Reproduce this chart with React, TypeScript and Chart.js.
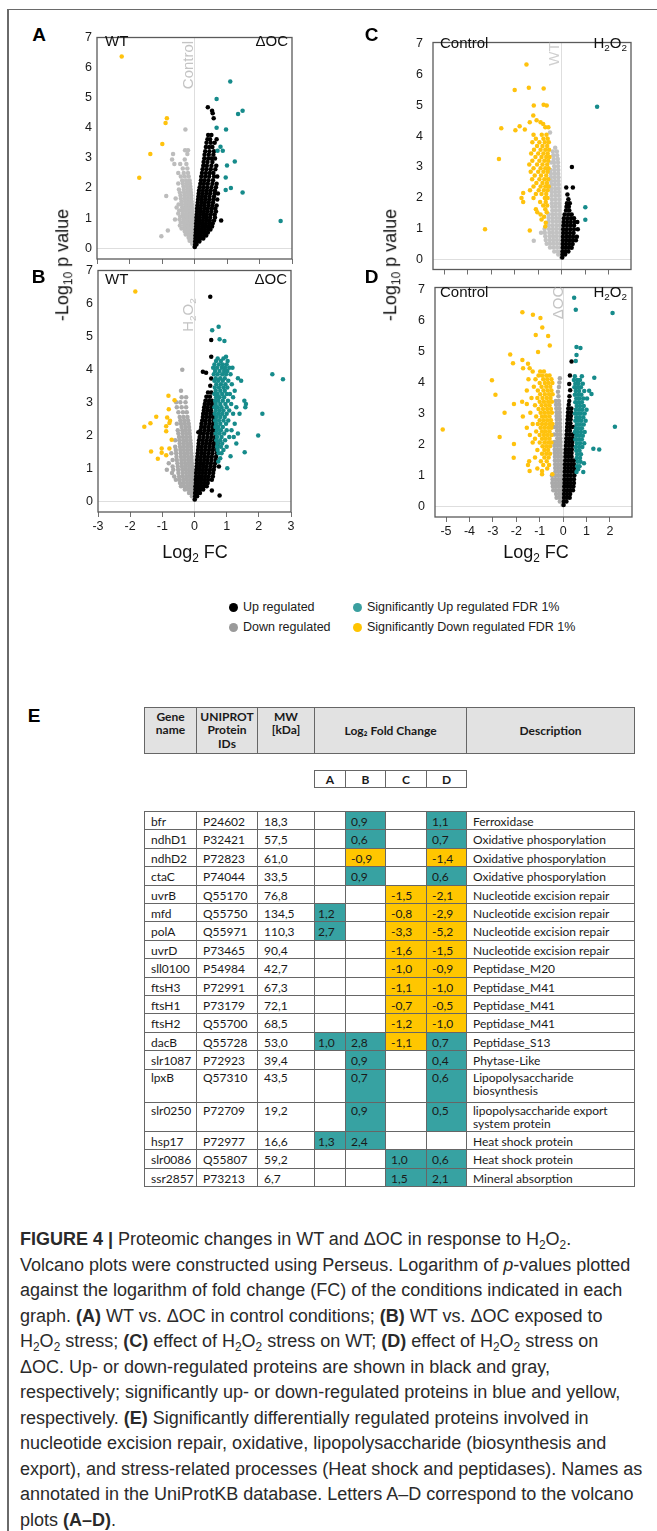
import React, { useEffect, useRef } from 'react';
import { Chart, registerables } from 'chart.js';
Chart.register(...registerables);

// Each row: [y, x1, x2, ...]  (-log10 p value, then log2 FC values read at that height)
type Row = number[];

// ---------- Panel A : WT vs ΔOC, Control ----------
const aSigUp: Row[] = [[5.54, 1.1], [4.96, 0.68], [4.57, 1.48], [4.46, 1.34], [4.0, 0.68], [3.94, 0.97], [3.37, 0.8], [3.24, 0.87, 0.71], [2.88, 1.24], [2.75, 1.0], [2.35, 0.96], [2.0, 1.12], [1.93, 0.96], [1.85, 1.48], [0.9, 2.65]];
const aSigDown: Row[] = [[6.37, -2.24], [4.32, -0.85], [4.16, -0.89], [3.46, -0.99], [3.13, -1.36], [2.34, -1.7]];
const aUp: Row[] = [
  [0.04, 0.01], [0.12, 0.02, 0.06], [0.22, 0.02, 0.08, 0.15], [0.32, 0.03, 0.1, 0.18, 0.27], [0.42, 0.03, 0.11, 0.2, 0.3, 0.36],
  [0.52, 0.04, 0.12, 0.21, 0.31, 0.41], [0.62, 0.04, 0.13, 0.22, 0.32, 0.42, 0.49], [0.72, 0.05, 0.14, 0.24, 0.34, 0.44, 0.54],
  [0.82, 0.05, 0.15, 0.25, 0.35, 0.45, 0.56], [0.92, 0.06, 0.16, 0.26, 0.36, 0.47, 0.6, 0.82], [1.02, 0.06, 0.16, 0.27, 0.37, 0.48, 0.63],
  [1.12, 0.07, 0.17, 0.28, 0.38, 0.5, 0.62], [1.22, 0.08, 0.18, 0.29, 0.4, 0.52, 0.66], [1.32, 0.08, 0.19, 0.3, 0.41, 0.53, 0.64],
  [1.42, 0.09, 0.2, 0.31, 0.43, 0.55, 0.68], [1.52, 0.1, 0.21, 0.32, 0.44, 0.57], [1.62, 0.11, 0.22, 0.33, 0.45, 0.58, 0.7],
  [1.72, 0.12, 0.23, 0.34, 0.46, 0.6], [1.82, 0.13, 0.24, 0.36, 0.48, 0.62, 0.72], [1.92, 0.14, 0.26, 0.38, 0.5, 0.63],
  [2.02, 0.16, 0.27, 0.39, 0.52, 0.66], [2.14, 0.18, 0.29, 0.41, 0.55, 0.68], [2.26, 0.2, 0.31, 0.43, 0.57], [2.38, 0.21, 0.33, 0.45, 0.6, 0.7],
  [2.5, 0.23, 0.35, 0.47, 0.58], [2.62, 0.25, 0.37, 0.5, 0.64], [2.74, 0.27, 0.38, 0.52, 0.67], [2.86, 0.28, 0.4, 0.55],
  [2.98, 0.3, 0.42, 0.52, 0.63], [3.1, 0.31, 0.44, 0.58], [3.22, 0.33, 0.46, 0.6], [3.36, 0.35, 0.45, 0.55], [3.5, 0.37, 0.5, 0.62],
  [3.62, 0.4, 0.48, 0.68], [3.76, 0.42, 0.52], [4.32, 0.59], [4.48, 0.56], [4.57, 0.54], [4.68, 0.41],
];
const aDown: Row[] = [
  [0.05, -0.01], [0.15, -0.02, -0.07], [0.25, -0.02, -0.08, -0.15], [0.35, -0.03, -0.1, -0.18], [0.45, -0.03, -0.1, -0.18, -0.27],
  [0.55, -0.04, -0.12, -0.2, -0.3], [0.65, -0.04, -0.12, -0.21, -0.31, -0.4], [0.75, -0.05, -0.13, -0.22, -0.32, -0.45],
  [0.85, -0.05, -0.14, -0.23, -0.33, -0.42], [0.95, -0.06, -0.15, -0.24, -0.34, -0.46, -0.6], [1.05, -0.06, -0.15, -0.25, -0.35, -0.44],
  [1.15, -0.07, -0.16, -0.26, -0.36, -0.5], [1.25, -0.07, -0.17, -0.27, -0.37, -0.47], [1.35, -0.08, -0.17, -0.27, -0.38, -0.55],
  [1.45, -0.08, -0.18, -0.28, -0.39, -0.49], [1.55, -0.09, -0.19, -0.29, -0.4], [1.65, -0.1, -0.2, -0.3, -0.42, -0.58],
  [1.75, -0.1, -0.2, -0.31, -0.43], [1.85, -0.11, -0.21, -0.32, -0.45], [1.95, -0.12, -0.22, -0.33, -0.48], [2.05, -0.13, -0.23, -0.34],
  [2.15, -0.14, -0.24, -0.36, -0.5], [2.25, -0.15, -0.26, -0.38], [2.38, -0.18, -0.3, -0.42], [2.5, -0.2, -0.33, -0.5],
  [2.65, -0.22, -0.36], [2.8, -0.25, -0.44, -0.62], [2.95, -0.3, -0.69], [3.13, -0.22, -0.66], [3.25, -0.29, -0.2], [3.94, -0.28],
  [1.73, -0.87], [0.59, -0.82], [0.4, -1.02],
];

// ---------- Panel B : WT vs ΔOC, H2O2 ----------
const bSigUp: Row[] = [
  [5.29, 0.75], [5.19, 0.55], [4.91, 0.78], [4.86, 0.93], [4.38, 0.98], [4.33, 0.72, 0.9], [4.25, 0.67, 0.82, 1.03],
  [4.15, 0.62, 0.76, 0.88, 1.0], [4.05, 0.58, 0.7, 0.85, 0.95, 1.08, 1.18], [3.95, 0.64, 0.78, 0.92, 1.02],
  [3.85, 0.6, 0.72, 0.86, 0.98, 1.12, 2.42], [3.73, 0.66, 0.8, 0.94, 1.35], [3.7, 2.75], [3.65, 0.62, 0.74, 0.88, 1.05, 1.45],
  [3.55, 0.68, 0.82, 0.96, 1.16], [3.45, 0.63, 0.76, 0.9, 1.02], [3.35, 0.66, 0.8, 0.94, 1.25], [3.25, 0.62, 0.72, 0.86, 1.0, 1.1],
  [3.15, 0.67, 0.78, 0.92, 1.2], [3.05, 0.64, 0.74, 0.88, 1.04, 1.55], [2.95, 0.66, 0.8, 0.96, 1.14, 1.6],
  [2.85, 0.62, 0.72, 0.84, 1.0, 1.3, 1.58], [2.75, 0.66, 0.78, 0.9, 1.08], [2.65, 0.63, 0.74, 0.86, 1.0, 1.2, 1.4, 2.11],
  [2.55, 0.68, 0.8, 0.94], [2.45, 0.64, 0.76, 0.9, 1.05], [2.35, 0.67, 0.8, 0.98, 1.25], [2.25, 0.65, 0.74, 0.88],
  [2.15, 0.7, 0.82, 1.0, 1.15], [2.05, 0.66, 0.78, 0.92, 1.35], [1.99, 1.98], [1.95, 0.7, 0.84, 1.08, 1.22], [1.85, 0.68, 0.8, 0.95],
  [1.75, 0.72, 0.86, 1.3], [1.65, 0.7, 0.82, 1.0], [1.55, 0.72, 0.9], [1.48, 1.56], [1.45, 0.75, 0.84], [1.36, 1.12], [1.3, 0.8],
  [1.2, 0.74], [1.0, 1.02],
];
const bSigDown: Row[] = [[6.36, -1.84], [3.2, -0.81], [3.06, -0.62], [2.79, -0.8], [2.56, -1.19], [2.54, -0.85], [2.44, -0.76], [2.37, -0.78], [2.36, -1.37], [2.26, -1.56], [2.27, -0.88], [2.12, -0.88], [1.86, -0.71], [1.6, -1.02, -0.78], [1.51, -1.35], [1.47, -1.02], [1.39, -0.88], [1.29, -1.14]];
const bUp: Row[] = [
  [0.05, 0.01], [0.15, 0.02, 0.08], [0.25, 0.02, 0.09, 0.17], [0.35, 0.03, 0.1, 0.18, 0.27], [0.45, 0.03, 0.11, 0.2, 0.29, 0.38],
  [0.55, 0.04, 0.12, 0.21, 0.31, 0.41], [0.65, 0.04, 0.13, 0.22, 0.32, 0.42, 0.54], [0.75, 0.05, 0.14, 0.23, 0.33, 0.44, 0.57],
  [0.85, 0.05, 0.15, 0.25, 0.35, 0.46, 0.58], [0.95, 0.06, 0.16, 0.26, 0.36, 0.48, 0.6], [1.05, 0.07, 0.17, 0.27, 0.38, 0.5, 0.62, 0.76],
  [1.15, 0.08, 0.18, 0.28, 0.39, 0.51, 0.64], [1.25, 0.08, 0.19, 0.3, 0.41, 0.53, 0.66], [1.35, 0.09, 0.2, 0.31, 0.42, 0.54, 0.67],
  [1.45, 0.1, 0.21, 0.32, 0.44, 0.56, 0.7], [1.55, 0.11, 0.22, 0.33, 0.45, 0.57, 0.69], [1.65, 0.12, 0.23, 0.35, 0.47, 0.59, 0.71],
  [1.75, 0.13, 0.25, 0.36, 0.48, 0.6, 0.72], [1.85, 0.14, 0.26, 0.38, 0.5, 0.62], [1.95, 0.16, 0.28, 0.4, 0.52, 0.64],
  [2.05, 0.18, 0.29, 0.41, 0.53, 0.65], [2.09, 0.12], [2.15, 0.19, 0.31, 0.43, 0.55, 0.66], [2.25, 0.21, 0.32, 0.44, 0.56, 0.67],
  [2.35, 0.22, 0.34, 0.46, 0.58], [2.45, 0.24, 0.35, 0.47, 0.6], [2.55, 0.26, 0.37, 0.48, 0.59], [2.65, 0.27, 0.38, 0.5, 0.6],
  [2.75, 0.29, 0.4, 0.51], [2.85, 0.3, 0.41, 0.53], [2.95, 0.32, 0.43, 0.54], [3.05, 0.34, 0.45, 0.55], [3.17, 0.37, 0.48],
  [3.3, 0.42, 0.52], [3.5, 0.49], [3.72, 0.52], [3.9, 0.36], [3.93, 0.26], [4.38, 0.52], [4.89, 0.52], [6.2, 0.49], [0.17, 0.78], [0.32, 0.54],
];
const bDown: Row[] = [
  [0.05, -0.01], [0.15, -0.02, -0.08], [0.25, -0.03, -0.1, -0.17], [0.35, -0.03, -0.11, -0.2, -0.3], [0.45, -0.04, -0.12, -0.21, -0.32, -0.42],
  [0.55, -0.05, -0.13, -0.23, -0.34, -0.45], [0.65, -0.05, -0.14, -0.24, -0.35, -0.47, -0.58], [0.75, -0.06, -0.15, -0.25, -0.36, -0.48, -0.63],
  [0.85, -0.06, -0.16, -0.26, -0.37, -0.5, -0.7], [0.95, -0.07, -0.17, -0.27, -0.38, -0.51, -0.66, -0.86],
  [1.05, -0.07, -0.17, -0.28, -0.39, -0.52, -0.68], [1.15, -0.08, -0.18, -0.29, -0.4, -0.53, -0.8], [1.25, -0.09, -0.19, -0.3, -0.41, -0.55, -0.68],
  [1.35, -0.09, -0.2, -0.31, -0.42, -0.56], [1.45, -0.1, -0.21, -0.32, -0.43, -0.57, -0.72], [1.55, -0.11, -0.22, -0.33, -0.44, -0.58],
  [1.65, -0.11, -0.22, -0.33, -0.45, -0.6], [1.75, -0.12, -0.23, -0.34, -0.46], [1.85, -0.13, -0.24, -0.35, -0.47, -0.6],
  [1.95, -0.14, -0.25, -0.36, -0.48], [2.05, -0.15, -0.26, -0.37, -0.5], [2.15, -0.16, -0.27, -0.38, -0.52], [2.25, -0.17, -0.28, -0.4],
  [2.35, -0.18, -0.3, -0.42, -0.55], [2.45, -0.2, -0.32, -0.44], [2.55, -0.22, -0.34, -0.46], [2.7, -0.24, -0.36, -0.5],
  [2.85, -0.26, -0.4, -0.55], [3.0, -0.28, -0.44, -0.57], [3.15, -0.26, -0.4], [3.35, -0.42], [3.99, -0.38],
];

// ---------- Panel C : Control vs H2O2, WT ----------
const cSigUp: Row[] = [[4.96, 1.5], [1.69, 1.0], [1.28, 1.0]];
const cSigDown: Row[] = [
  [6.33, -1.5], [5.58, -1.4], [5.55, -0.77], [5.5, -2.0], [5.02, -0.77], [5.0, -1.19, -0.64], [4.67, -1.21], [4.52, -1.07],
  [4.45, -1.36, -0.9], [4.4, -0.79], [4.32, -1.79], [4.29, -0.57, -0.7], [4.26, -2.57], [4.22, -1.57], [4.19, -1.97],
  [4.05, -1.2, -0.85, -0.65], [3.92, -1.1, -0.78, -0.6], [3.8, -1.25, -0.95, -0.72, -0.55], [3.68, -1.05, -0.82, -0.62],
  [3.56, -1.18, -0.9, -0.7, -0.54], [3.44, -1.3, -1.0, -0.78, -0.6], [3.32, -1.12, -0.86, -0.66, -0.52], [3.26, -2.67],
  [3.2, -1.25, -0.95, -0.74, -0.58], [3.08, -1.38, -1.05, -0.82, -0.62], [2.96, -1.2, -0.9, -0.7, -0.56], [2.84, -1.32, -1.0, -0.78, -0.6],
  [2.72, -1.15, -0.88, -0.66], [2.6, -1.26, -0.95, -0.74, -0.58], [2.48, -1.08, -0.82, -0.63], [2.36, -1.2, -0.9, -0.7, -0.56],
  [2.24, -1.35, -0.98, -0.76, -0.6], [2.15, -1.64], [2.12, -1.1, -0.86, -0.66], [1.99, -1.71, -1.2, -0.72, -0.6], [1.86, -1.64, -0.92, -0.68],
  [1.74, -0.79, -0.62], [1.62, -1.1, -0.7], [1.52, -1.04, -0.64], [1.45, -0.9], [1.38, -0.75], [1.29, -0.86], [1.18, -0.68], [1.06, -0.7],
  [0.97, -3.26], [0.93, -1.36],
];
const cUp: Row[] = [
  [0.05, 0.02], [0.15, 0.03, 0.14], [0.25, 0.03, 0.16, 0.28], [0.37, 0.04, 0.17, 0.3, 0.42], [0.49, 0.04, 0.18, 0.32, 0.46],
  [0.61, 0.05, 0.19, 0.33, 0.47, 0.6], [0.73, 0.05, 0.2, 0.34, 0.48, 0.64], [0.85, 0.06, 0.2, 0.35, 0.5], [0.97, 0.06, 0.21, 0.36, 0.52, 0.68],
  [1.09, 0.07, 0.22, 0.37, 0.52], [1.21, 0.08, 0.23, 0.38, 0.54, 0.66], [1.33, 0.09, 0.24, 0.39, 0.52], [1.45, 0.12, 0.27, 0.42],
  [1.58, 0.18, 0.32], [1.7, 0.2, 0.3], [1.82, 0.22, 0.34], [1.95, 0.28], [2.1, 0.24], [2.33, 0.19, 0.47], [3.0, 0.43],
];
const cDown: Row[] = [
  [0.05, -0.02], [0.15, -0.03, -0.15], [0.25, -0.04, -0.18, -0.32], [0.38, -0.05, -0.2, -0.35, -0.5], [0.5, -0.05, -0.2, -0.35, -0.5, -0.64],
  [0.6, -1.19], [0.62, -0.06, -0.21, -0.36, -0.51, -0.68], [0.74, -0.06, -0.22, -0.37, -0.52, -0.7], [0.86, -0.07, -0.22, -0.38, -0.53, -0.72, -0.88],
  [0.98, -0.07, -0.23, -0.38, -0.54, -0.73], [1.1, -0.08, -0.23, -0.39, -0.55], [1.22, -0.08, -0.24, -0.39, -0.56], [1.34, -0.09, -0.24, -0.4, -0.56],
  [1.46, -0.09, -0.25, -0.4, -0.56], [1.58, -0.1, -0.25, -0.4], [1.7, -0.1, -0.26, -0.41], [1.82, -0.11, -0.26, -0.42], [1.94, -0.11, -0.27, -0.42],
  [2.06, -0.12, -0.27, -0.43], [2.18, -0.12, -0.28, -0.43], [2.3, -0.13, -0.28, -0.44], [2.42, -0.13, -0.29, -0.44], [2.54, -0.14, -0.29, -0.45],
  [2.66, -0.14, -0.3, -0.46], [2.78, -0.15, -0.3, -0.46], [2.9, -0.15, -0.31, -0.47], [3.02, -0.16, -0.32], [3.14, -0.16, -0.33, -0.45],
  [3.26, -0.17, -0.34], [3.38, -0.2, -0.36], [3.5, -0.21, -0.38], [3.62, -0.28], [4.12, -0.5],
];

// ---------- Panel D : Control vs H2O2, ΔOC ----------
const dSigUp: Row[] = [
  [6.73, 0.47], [6.34, 0.54], [6.24, 2.11], [5.14, 0.57], [5.11, 0.74], [4.88, 0.57], [4.69, 0.54], [4.15, 1.33], [3.73, 1.11], [3.63, 1.21],
  [2.57, 2.21], [1.86, 1.29], [1.84, 1.54], [1.39, 0.89], [1.11, 0.86, 0.57],
  [4.2, 0.5, 0.8], [4.08, 0.46, 0.6, 0.72], [3.96, 0.52, 0.66, 0.84], [3.84, 0.48, 0.62, 0.76], [3.72, 0.54, 0.68, 0.9], [3.6, 0.5, 0.64, 0.78],
  [3.48, 0.56, 0.7, 0.86, 1.02], [3.36, 0.52, 0.66, 0.8], [3.24, 0.58, 0.72, 0.88], [3.12, 0.54, 0.68, 0.82, 1.0], [3.0, 0.5, 0.62, 0.76, 0.92],
  [2.88, 0.56, 0.7, 0.86], [2.76, 0.52, 0.64, 0.78, 0.96], [2.64, 0.58, 0.72, 0.88], [2.52, 0.54, 0.66, 0.8], [2.4, 0.5, 0.62, 0.76, 0.92],
  [2.28, 0.56, 0.7, 0.84], [2.16, 0.52, 0.66, 0.8], [2.04, 0.58, 0.72, 0.9], [1.92, 0.54, 0.68, 0.82], [1.8, 0.56, 0.7], [1.68, 0.6, 0.76],
  [1.56, 0.58, 0.72], [1.44, 0.62, 0.74], [1.3, 0.6, 0.7], [1.2, 0.64],
];
const dSigDown: Row[] = [
  [6.26, -1.74], [6.18, -1.29], [6.08, -0.97], [5.77, -0.89], [5.53, -1.17], [5.5, -0.64], [5.19, -0.57], [4.98, -1.07], [4.9, -2.26],
  [4.72, -1.74], [4.62, -2.14], [4.6, -1.5], [4.46, -1.71, -1.43], [4.07, -3.04], [3.6, -2.89], [3.02, -2.5], [2.48, -5.14], [2.24, -2.71],
  [2.01, -2.1], [1.57, -2.11],
  [4.35, -1.3, -0.98, -0.82], [4.22, -1.05, -0.9, -0.72, -0.58], [4.1, -1.48, -1.18, -0.85, -0.68, -0.5], [3.98, -1.0, -0.78, -0.62, -0.46],
  [3.86, -1.25, -0.92, -0.72, -0.55], [3.74, -1.55, -1.08, -0.84, -0.66, -0.5], [3.62, -0.98, -0.78, -0.6, -0.45], [3.5, -1.35, -1.1, -0.88, -0.7, -0.54],
  [3.38, -1.75, -1.0, -0.82, -0.64, -0.48], [3.3, -2.1, -1.55], [3.26, -1.2, -0.92, -0.74, -0.58], [3.14, -1.05, -0.86, -0.68, -0.52],
  [3.02, -1.4, -0.96, -0.8, -0.64, -0.48], [2.9, -1.72, -1.15, -0.9, -0.74, -0.58], [2.78, -1.0, -0.84, -0.68, -0.52],
  [2.66, -1.3, -1.08, -0.9, -0.74, -0.58, -0.46], [2.54, -1.55, -0.96, -0.8, -0.64, -0.5], [2.42, -1.15, -0.9, -0.74, -0.58],
  [2.3, -1.42, -1.0, -0.82, -0.66, -0.5], [2.18, -1.2, -0.9, -0.74, -0.58], [2.06, -1.3, -1.0, -0.8, -0.64, -0.5], [1.94, -0.88, -0.72, -0.56],
  [1.82, -1.1, -0.8, -0.64], [1.7, -0.9, -0.72, -0.56], [1.58, -1.2, -0.8, -0.62], [1.46, -1.45, -0.95, -0.7], [1.34, -1.5, -0.85, -0.6],
  [1.22, -1.1, -0.68], [1.14, -1.43, -0.9], [1.04, -0.9, -0.46],
];
const dUp: Row[] = [
  [0.05, 0.02], [0.16, 0.03, 0.14], [0.28, 0.04, 0.16, 0.28], [0.4, 0.04, 0.17, 0.3], [0.52, 0.05, 0.18, 0.31, 0.42], [0.64, 0.05, 0.18, 0.31, 0.44],
  [0.76, 0.06, 0.19, 0.32, 0.46], [0.88, 0.06, 0.19, 0.32, 0.46], [1.0, 0.07, 0.2, 0.33, 0.48], [1.12, 0.07, 0.2, 0.33, 0.46],
  [1.24, 0.08, 0.21, 0.34, 0.47], [1.36, 0.08, 0.21, 0.34, 0.46], [1.48, 0.09, 0.22, 0.35, 0.46], [1.6, 0.1, 0.23, 0.36], [1.72, 0.1, 0.23, 0.36],
  [1.84, 0.11, 0.24, 0.37], [1.96, 0.12, 0.25, 0.38], [2.08, 0.13, 0.26, 0.39], [2.2, 0.14, 0.27, 0.4], [2.32, 0.15, 0.28, 0.41], [2.44, 0.16, 0.29],
  [2.56, 0.17, 0.3, 0.42], [2.68, 0.18, 0.31], [2.8, 0.19, 0.32], [2.92, 0.2, 0.33], [3.04, 0.21, 0.34], [3.16, 0.22, 0.35], [3.28, 0.24],
  [3.4, 0.26], [3.55, 0.27], [3.75, 0.3], [3.95, 0.26], [4.22, 0.29], [4.67, 0.36],
];
const dDown: Row[] = [
  [0.05, -0.02], [0.16, -0.03, -0.14], [0.28, -0.04, -0.16, -0.28], [0.4, -0.04, -0.17, -0.3], [0.52, -0.05, -0.18, -0.31, -0.42],
  [0.64, -0.05, -0.18, -0.31, -0.44], [0.76, -0.06, -0.19, -0.32, -0.46], [0.88, -0.06, -0.19, -0.32, -0.45], [1.0, -0.07, -0.2, -0.33, -0.48],
  [1.12, -0.07, -0.2, -0.33], [1.24, -0.08, -0.21, -0.34], [1.36, -0.08, -0.21, -0.34], [1.48, -0.09, -0.22, -0.35], [1.6, -0.09, -0.22, -0.35],
  [1.72, -0.1, -0.23, -0.36], [1.84, -0.1, -0.23, -0.36], [1.96, -0.11, -0.24, -0.37], [2.08, -0.11, -0.24, -0.37], [2.2, -0.12, -0.25],
  [2.32, -0.12, -0.25, -0.38], [2.44, -0.13, -0.26], [2.56, -0.13, -0.26, -0.38], [2.68, -0.14, -0.27], [2.8, -0.14, -0.27], [2.92, -0.15, -0.28],
  [3.04, -0.15, -0.28], [3.16, -0.16, -0.29], [3.28, -0.17, -0.3], [3.4, -0.18, -0.31], [3.55, -0.2], [3.7, -0.22], [3.85, -0.18], [4.0, -0.16], [4.13, -0.14],
];

// ---------- tick labels ----------
const xTicksAB = [-3, -2, -1, 0, 1, 2, 3];
const xTicksCD = [-5, -4, -3, -2, -1, 0, 1, 2];
const yTicks = [0, 1, 2, 3, 4, 5, 6, 7];

// ---------- Table E ----------
const genes = ['bfr', 'ndhD1', 'ndhD2', 'ctaC', 'uvrB', 'mfd', 'polA', 'uvrD', 'sll0100', 'ftsH3', 'ftsH1', 'ftsH2', 'dacB', 'slr1087', 'lpxB', 'slr0250', 'hsp17', 'slr0086', 'ssr2857'];
const uniprotIds = ['P24602', 'P32421', 'P72823', 'P74044', 'Q55170', 'Q55750', 'Q55971', 'P73465', 'P54984', 'P72991', 'P73179', 'Q55700', 'Q55728', 'P72923', 'Q57310', 'P72709', 'P72977', 'Q55807', 'P73213'];
const mwKDa = ['18,3', '57,5', '61,0', '33,5', '76,8', '134,5', '110,3', '90,4', '42,7', '67,3', '72,1', '68,5', '53,0', '39,4', '43,5', '19,2', '16,6', '59,2', '6,7'];
const fcA = [null, null, null, null, null, 1.2, 2.7, null, null, null, null, null, 1.0, null, null, null, 1.3, null, null];
const fcB = [0.9, 0.6, -0.9, 0.9, null, null, null, null, null, null, null, null, 2.8, 0.9, 0.7, 0.9, 2.4, null, null];
const fcC = [null, null, null, null, -1.5, -0.8, -3.3, -1.6, -1.0, -1.1, -0.7, -1.2, -1.1, null, null, null, null, 1.0, 1.5];
const fcD = [1.1, 0.7, -1.4, 0.6, -2.1, -2.9, -5.2, -1.5, -0.9, -1.0, -0.5, -1.0, 0.7, 0.4, 0.6, 0.5, null, 0.6, 2.1];
const descriptions = ['Ferroxidase', 'Oxidative phosporylation', 'Oxidative phosporylation', 'Oxidative phosporylation', 'Nucleotide excision repair', 'Nucleotide excision repair', 'Nucleotide excision repair', 'Nucleotide excision repair', 'Peptidase_M20', 'Peptidase_M41', 'Peptidase_M41', 'Peptidase_M41', 'Peptidase_S13', 'Phytase-Like', 'Lipopolysaccharide\nbiosynthesis', 'lipopolysaccharide export\nsystem protein', 'Heat shock protein', 'Heat shock protein', 'Mineral absorption'];
const fcLetters = ['A', 'B', 'C', 'D'];

// ---------- styling / layout ----------
const SANS = '"Liberation Sans", Arial, sans-serif';
const TABLE_FONT = 'Lato, "Open Sans", sans-serif';
const TEAL = '#168b8b';
const YELLOW = '#ffc20d';
const BLACK = '#000000';
const CELL_TEAL = '#37a2a2';
const CELL_YELLOW = '#ffc600';

function toPoints(rows: Row[]) {
  return rows.flatMap((r) => r.slice(1).map((x) => ({ x, y: r[0] })));
}

interface Spec {
  sigUp: Row[]; sigDown: Row[]; up: Row[]; down: Row[]; gray: string;
  xMin: number; xMax: number; yMin: number; yMax: number; xTicks: number[]; showX: boolean;
  left: number; top: number; width: number; height: number; padTop: number; yW: number; xH: number; yPad: number;
}

const specs: Spec[] = [
  { sigUp: aSigUp, sigDown: aSigDown, up: aUp, down: aDown, gray: '#bdbdbd', xMin: -3, xMax: 3, yMin: -0.36, yMax: 7, xTicks: xTicksAB, showX: false, left: 50, top: 25, width: 250, height: 250, padTop: 8, yW: 47, xH: 16, yPad: 5 },
  { sigUp: bSigUp, sigDown: bSigDown, up: bUp, down: bDown, gray: '#ababab', xMin: -3, xMax: 3, yMin: -0.33, yMax: 7, xTicks: xTicksAB, showX: true, left: 50, top: 258, width: 249, height: 282, padTop: 10, yW: 48, xH: 28, yPad: 5 },
  { sigUp: cSigUp, sigDown: cSigDown, up: cUp, down: cDown, gray: '#c2c2c2', xMin: -5.47, xMax: 2.94, yMin: -0.34, yMax: 7.05, xTicks: xTicksCD, showX: false, left: 375, top: 25, width: 264, height: 262, padTop: 8, yW: 58, xH: 16, yPad: 10 },
  { sigUp: dSigUp, sigDown: dSigDown, up: dUp, down: dDown, gray: '#a9a9a9', xMin: -5.47, xMax: 2.94, yMin: -0.34, yMax: 7.06, xTicks: xTicksCD, showX: true, left: 375, top: 270, width: 265, height: 275, padTop: 10, yW: 60, xH: 28, yPad: 10 },
];

const framePlugin = {
  id: 'frame',
  afterDraw(chart: any) {
    const { ctx, chartArea } = chart;
    const { left, top, right, bottom } = chartArea;
    ctx.save();
    ctx.strokeStyle = '#5a5a5a';
    ctx.lineWidth = 1.3;
    ctx.strokeRect(left, top, right - left, bottom - top);
    ctx.restore();
  },
};

const zeroGrid = (c: any) => (c.tick && c.tick.value === 0 ? '#dedede' : 'rgba(0,0,0,0)');

function Volcano({ s }: { s: Spec }) {
  const ref = useRef<HTMLCanvasElement>(null);
  useEffect(() => {
    const ds = (rows: Row[], color: string) => ({
      data: toPoints(rows), backgroundColor: color, borderColor: color, pointRadius: 2.25, pointBorderWidth: 0, pointHoverRadius: 0,
    });
    const font = { family: SANS, size: 12.5 };
    const chart = new Chart(ref.current as HTMLCanvasElement, {
      type: 'scatter',
      data: { datasets: [ds(s.sigUp, TEAL), ds(s.sigDown, YELLOW), ds(s.up, BLACK), ds(s.down, s.gray)] as any },
      options: {
        responsive: false, animation: false, devicePixelRatio: 1, events: [],
        layout: { padding: { top: s.padTop, right: 8, left: 0, bottom: 0 } },
        plugins: { legend: { display: false }, tooltip: { enabled: false } },
        scales: {
          x: {
            type: 'linear', min: s.xMin, max: s.xMax,
            afterBuildTicks: (sc: any) => { sc.ticks = s.xTicks.map((v) => ({ value: v })); },
            afterFit: (sc: any) => { sc.height = s.xH; },
            border: { display: false },
            grid: { color: zeroGrid, lineWidth: 1, drawTicks: true, tickLength: 5, tickColor: '#707070', tickWidth: 1 },
            ticks: { autoSkip: false, maxRotation: 0, padding: 2, color: s.showX ? '#1a1a1a' : 'rgba(0,0,0,0)', font, callback: (v: any) => String(v) },
          },
          y: {
            type: 'linear', min: s.yMin, max: s.yMax,
            afterBuildTicks: (sc: any) => { sc.ticks = yTicks.map((v) => ({ value: v })); },
            afterFit: (sc: any) => { sc.width = s.yW; },
            border: { display: false },
            grid: { color: zeroGrid, lineWidth: 1, drawTicks: false },
            ticks: { autoSkip: false, padding: s.yPad, color: '#1a1a1a', font, callback: (v: any) => String(v) },
          },
        },
      } as any,
      plugins: [framePlugin],
    });
    return () => chart.destroy();
  }, []);
  return <canvas ref={ref} width={s.width} height={s.height} style={{ position: 'absolute', left: s.left, top: s.top, width: s.width, height: s.height }} />;
}

const Sub = ({ children }: { children: React.ReactNode }) => (
  <span style={{ fontSize: '0.66em', verticalAlign: '-0.3em', lineHeight: 0 }}>{children}</span>
);

function Txt({ x, y, children, size = 14, align = 'left', color = '#111', weight = 400, family = SANS }: any) {
  const style: any = { position: 'absolute', top: y - size * 0.6, fontSize: size, lineHeight: `${size * 1.2}px`, whiteSpace: 'nowrap', color, fontWeight: weight, fontFamily: family };
  if (align === 'left') style.left = x;
  else if (align === 'right') style.right = 657 - x;
  else { style.left = x; style.transform = 'translateX(-50%)'; }
  return <div style={style}>{children}</div>;
}

function Rot({ x, y, children, size = 15, color = '#111' }: any) {
  return (
    <div style={{ position: 'absolute', left: x, top: y, transform: 'translate(-50%,-50%) rotate(-90deg)', fontSize: size, lineHeight: `${size * 1.2}px`, whiteSpace: 'nowrap', color, fontFamily: SANS }}>
      {children}
    </div>
  );
}

const H2O2 = () => <span>H<Sub>2</Sub>O<Sub>2</Sub></span>;

const COLS = [144, 196, 257, 314, 345, 385, 426, 466, 634];
const ROW_TOPS = [811, 829, 848, 866, 885, 903, 921, 940, 958, 977, 995, 1013, 1032, 1050, 1069, 1102, 1131, 1149, 1168, 1186];
const fmt = (v: number) => v.toFixed(1).replace('.', ',');

function Cell({ l, r, t, b, bg = '#fff', children, pad = 6, bold = false, center = false, valign = 'top', lh = 15, pt = 1.5 }: any) {
  return (
    <div style={{
      position: 'absolute', left: l, top: t, width: r - l + 1, height: b - t + 1, boxSizing: 'border-box', border: '1px solid #666',
      background: bg, fontFamily: TABLE_FONT, fontSize: 12, lineHeight: `${lh}px`, color: '#1a1a1a', paddingLeft: center ? 0 : pad,
      paddingTop: valign === 'top' ? pt : 0, fontWeight: bold ? 700 : 400, textAlign: center ? 'center' : 'left', whiteSpace: 'pre',
      display: 'flex', flexDirection: 'column', justifyContent: valign === 'top' ? 'flex-start' : 'center', overflow: 'hidden',
    }}>
      {children}
    </div>
  );
}

function TableE() {
  const cells: React.ReactNode[] = [];
  genes.forEach((g, i) => {
    const t = ROW_TOPS[i];
    const b = ROW_TOPS[i + 1];
    const multi = descriptions[i].includes('\n');
    const lh = multi ? 13.5 : 15;
    const pt = multi ? 0.5 : 1.5;
    const texts = [g, uniprotIds[i], mwKDa[i]];
    texts.forEach((tx, c) => cells.push(<Cell key={`t${i}-${c}`} l={COLS[c]} r={COLS[c + 1]} t={t} b={b} lh={lh} pt={pt}>{tx}</Cell>));
    [fcA, fcB, fcC, fcD].forEach((arr, k) => {
      const v = arr[i];
      const bg = v === null ? '#fff' : v > 0 ? CELL_TEAL : CELL_YELLOW;
      cells.push(<Cell key={`f${i}-${k}`} l={COLS[3 + k]} r={COLS[4 + k]} t={t} b={b} bg={bg} pad={k === 0 ? 3 : 5} lh={lh} pt={pt}>{v === null ? '' : fmt(v)}</Cell>);
    });
    cells.push(<Cell key={`d${i}`} l={COLS[7]} r={COLS[8]} t={t} b={b} lh={lh} pt={pt}>{descriptions[i]}</Cell>);
  });
  const HB = '#e2e2e2';
  return (
    <>
      <Cell l={144} r={196} t={707} b={753} bg={HB} bold center lh={13.5}>{'Gene\nname'}</Cell>
      <Cell l={196} r={257} t={707} b={753} bg={HB} bold center lh={13.5}>{'UNIPROT\nProtein\nIDs'}</Cell>
      <Cell l={257} r={314} t={707} b={753} bg={HB} bold center lh={13.5}>{'MW\n[kDa]'}</Cell>
      <Cell l={314} r={466} t={707} b={753} bg={HB} bold center valign="middle">{'Log₂ Fold Change'}</Cell>
      <Cell l={466} r={634} t={707} b={753} bg={HB} bold center valign="middle">{'Description'}</Cell>
      {fcLetters.map((L, k) => (
        <Cell key={L} l={COLS[3 + k]} r={COLS[4 + k]} t={770} b={787} bold center valign="middle">{L}</Cell>
      ))}
      {cells}
    </>
  );
}

const B = ({ children }: any) => <b style={{ fontWeight: 700 }}>{children}</b>;

const captionLines: React.ReactNode[] = [
  <><B>FIGURE 4 |</B> Proteomic changes in WT and ΔOC in response to <H2O2 />.</>,
  <>Volcano plots were constructed using Perseus. Logarithm of <i>p</i>-values plotted</>,
  <>against the logarithm of fold change (FC) of the conditions indicated in each</>,
  <>graph. <B>(A)</B> WT vs. ΔOC in control conditions; <B>(B)</B> WT vs. ΔOC exposed to</>,
  <><H2O2 /> stress; <B>(C)</B> effect of <H2O2 /> stress on WT; <B>(D)</B> effect of <H2O2 /> stress on</>,
  <>ΔOC. Up- or down-regulated proteins are shown in black and gray,</>,
  <>respectively; significantly up- or down-regulated proteins in blue and yellow,</>,
  <>respectively. <B>(E)</B> Significantly differentially regulated proteins involved in</>,
  <>nucleotide excision repair, oxidative, lipopolysaccharide (biosynthesis and</>,
  <>export), and stress-related processes (Heat shock and peptidases). Names as</>,
  <>annotated in the UniProtKB database. Letters A–D correspond to the volcano</>,
  <>plots <B>(A–D)</B>.</>,
];

export default function App() {
  return (
    <div style={{ position: 'absolute', left: 0, top: 0, width: 657, height: 1531, background: '#fff', fontFamily: SANS, overflow: 'hidden' }}>
      <div style={{ position: 'absolute', left: 7, top: 8.5, width: 650, height: 1.5, background: '#6a6a6a' }} />
      <div style={{ position: 'absolute', left: 7, top: 8.5, width: 1.5, height: 1523, background: '#6a6a6a' }} />

      {specs.map((s, i) => <Volcano key={i} s={s} />)}

      {/* panel letters */}
      <Txt x={39} y={35} size={19} weight={700} align="center" color="#000">A</Txt>
      <Txt x={38.5} y={277} size={19} weight={700} align="center" color="#000">B</Txt>
      <Txt x={371.5} y={35} size={19} weight={700} align="center" color="#000">C</Txt>
      <Txt x={371.5} y={277.5} size={19} weight={700} align="center" color="#000">D</Txt>
      <Txt x={34} y={716} size={19} weight={700} align="center" color="#000">E</Txt>

      {/* corner labels */}
      <Txt x={105} y={41} size={15}>WT</Txt>
      <Txt x={288} y={41} size={15} align="right">ΔOC</Txt>
      <Txt x={105} y={279} size={15}>WT</Txt>
      <Txt x={287} y={279} size={15} align="right">ΔOC</Txt>
      <Txt x={440} y={43} size={15}>Control</Txt>
      <Txt x={627} y={43} size={15} align="right"><H2O2 /></Txt>
      <Txt x={440} y={292} size={15}>Control</Txt>
      <Txt x={627} y={292} size={15} align="right"><H2O2 /></Txt>

      {/* rotated condition labels */}
      <Rot x={187.5} y={65} color="#c4c4c4">Control</Rot>
      <Rot x={188} y={315} color="#c4c4c4"><H2O2 /></Rot>
      <Rot x={554} y={54} color="#cfcfcf">WT</Rot>
      <Rot x={557.5} y={303} color="#c4c4c4">ΔOC</Rot>

      {/* axis titles */}
      <Rot x={62.5} y={265} size={18} color="#111">-Log<Sub>10</Sub> p value</Rot>
      <Rot x={391} y={265} size={18} color="#111">-Log<Sub>10</Sub> p value</Rot>
      <Txt x={195} y={553} size={18} align="center">Log<Sub>2</Sub> FC</Txt>
      <Txt x={536} y={553} size={18} align="center">Log<Sub>2</Sub> FC</Txt>

      {/* legend */}
      {[
        { x: 233, y: 607, c: '#000', t: 'Up regulated' },
        { x: 233, y: 627, c: '#9a9a9a', t: 'Down regulated' },
        { x: 357, y: 607, c: '#3a9f9f', t: 'Significantly Up regulated FDR 1%' },
        { x: 357, y: 627, c: '#ffc400', t: 'Significantly Down regulated FDR 1%' },
      ].map((l) => (
        <React.Fragment key={l.t}>
          <div style={{ position: 'absolute', left: l.x - 4.5, top: l.y - 4.5, width: 9, height: 9, borderRadius: '50%', background: l.c }} />
          <Txt x={l.x + 10} y={l.y} size={12.5} color="#1a1a1a">{l.t}</Txt>
        </React.Fragment>
      ))}

      <TableE />

      {/* caption */}
      <div style={{ position: 'absolute', left: 20, top: 1227, fontFamily: SANS, fontSize: 18, color: '#2a2a2a' }}>
        {captionLines.map((ln, i) => (
          <div key={i} style={{ height: 25.5, lineHeight: '25.5px', whiteSpace: 'nowrap' }}>{ln}</div>
        ))}
      </div>
    </div>
  );
}
